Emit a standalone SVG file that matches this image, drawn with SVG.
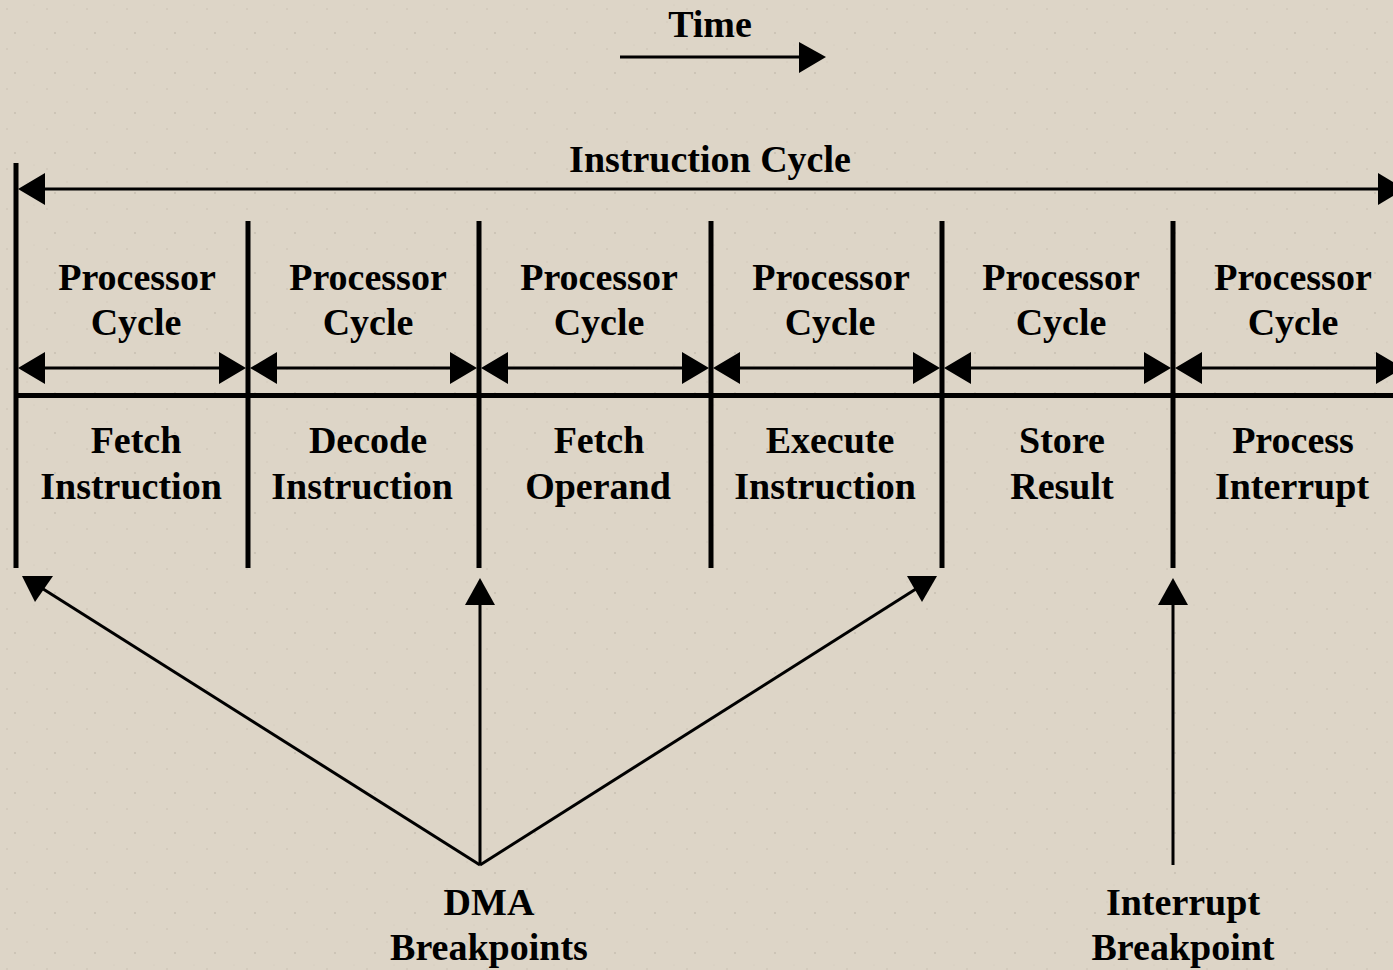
<svg xmlns="http://www.w3.org/2000/svg" width="1393" height="970" viewBox="0 0 1393 970">
<style>
text{font-family:"Liberation Serif","Times New Roman",serif;font-weight:bold;font-size:38px;fill:#000;text-anchor:middle}
.bar{stroke:#000;stroke-width:5;fill:none}
.ln{stroke:#000;stroke-width:3;fill:none}
.hd{fill:#000}
</style>
<defs>
<pattern id="tex" width="40" height="40" patternUnits="userSpaceOnUse">
<rect width="40" height="40" fill="#ddd5c7"/>
<circle cx="7" cy="9" r="0.8" fill="#c9c0b1"/>
<circle cx="27" cy="22" r="0.7" fill="#cfc6b8"/>
<circle cx="15" cy="33" r="0.9" fill="#c6bdaf"/>
<circle cx="34" cy="5" r="0.6" fill="#d0c7b9"/>
</pattern>
</defs>
<rect width="1393" height="970" fill="url(#tex)"/>

<g id="time">
<text x="710" y="37">Time</text>
<line class="ln" x1="620" y1="57" x2="802" y2="57"/>
<polygon class="hd" points="826,57 799,42 799,73"/>
</g>

<g id="instruction-cycle">
<text x="710" y="172">Instruction Cycle</text>
</g>

<g id="frame">
<line class="bar" x1="16" y1="163" x2="16" y2="568"/>
<line class="bar" x1="248" y1="221" x2="248" y2="568"/>
<line class="bar" x1="479" y1="221" x2="479" y2="568"/>
<line class="bar" x1="711" y1="221" x2="711" y2="568"/>
<line class="bar" x1="942" y1="221" x2="942" y2="568"/>
<line class="bar" x1="1173" y1="221" x2="1173" y2="568"/>
<line class="bar" x1="14" y1="395.5" x2="1393" y2="395.5"/>
</g>

<g id="c1">
<text x="137" y="290">Processor</text><text x="136" y="335">Cycle</text>
<text x="136" y="453">Fetch</text><text x="131" y="499">Instruction</text>
</g>
<g id="c2">
<text x="368" y="290">Processor</text><text x="368" y="335">Cycle</text>
<text x="368" y="453">Decode</text><text x="362" y="499">Instruction</text>
</g>
<g id="c3">
<text x="599" y="290">Processor</text><text x="599" y="335">Cycle</text>
<text x="599" y="453">Fetch</text><text x="598" y="499">Operand</text>
</g>
<g id="c4">
<text x="831" y="290">Processor</text><text x="830" y="335">Cycle</text>
<text x="830" y="453">Execute</text><text x="825" y="499">Instruction</text>
</g>
<g id="c5">
<text x="1061" y="290">Processor</text><text x="1061" y="335">Cycle</text>
<text x="1062" y="453">Store</text><text x="1062" y="499">Result</text>
</g>
<g id="c6">
<text x="1293" y="290">Processor</text><text x="1293" y="335">Cycle</text>
<text x="1293" y="453">Process</text><text x="1292" y="499">Interrupt</text>
</g>

<g id="dma">
<text x="489" y="915">DMA</text><text x="489" y="960">Breakpoints</text>
</g>
<g id="interrupt">
<text x="1183" y="915">Interrupt</text><text x="1183" y="960">Breakpoint</text>
</g>

<g id="connectors">
<!-- instruction cycle span -->
<line class="ln" x1="40" y1="189" x2="1393" y2="189"/>
<polygon class="hd" points="18,189 45,173 45,205"/>
<polygon class="hd" points="1405,189 1378,173 1378,205"/>
<!-- processor cycle spans -->
<line class="ln" x1="40" y1="368" x2="225" y2="368"/>
<polygon class="hd" points="18,368 45,352 45,384"/>
<polygon class="hd" points="246,368 219,352 219,384"/>
<line class="ln" x1="272" y1="368" x2="456" y2="368"/>
<polygon class="hd" points="250,368 277,352 277,384"/>
<polygon class="hd" points="477,368 450,352 450,384"/>
<line class="ln" x1="503" y1="368" x2="688" y2="368"/>
<polygon class="hd" points="481,368 508,352 508,384"/>
<polygon class="hd" points="709,368 682,352 682,384"/>
<line class="ln" x1="735" y1="368" x2="919" y2="368"/>
<polygon class="hd" points="713,368 740,352 740,384"/>
<polygon class="hd" points="940,368 913,352 913,384"/>
<line class="ln" x1="966" y1="368" x2="1150" y2="368"/>
<polygon class="hd" points="944,368 971,352 971,384"/>
<polygon class="hd" points="1171,368 1144,352 1144,384"/>
<line class="ln" x1="1197" y1="368" x2="1393" y2="368"/>
<polygon class="hd" points="1175,368 1202,352 1202,384"/>
<polygon class="hd" points="1403,368 1376,352 1376,384"/>
<!-- DMA breakpoints -->
<line class="ln" x1="480" y1="865" x2="40" y2="587"/>
<polygon class="hd" points="22,576 53,576 35,602"/>
<line class="ln" x1="480" y1="865" x2="480" y2="600"/>
<polygon class="hd" points="480,578 465,605 495,605"/>
<line class="ln" x1="480" y1="865" x2="919" y2="587"/>
<polygon class="hd" points="937,576 907,576 922,602"/>
<!-- interrupt breakpoint -->
<line class="ln" x1="1173" y1="865" x2="1173" y2="600"/>
<polygon class="hd" points="1173,578 1158,605 1188,605"/>
</g>
</svg>
